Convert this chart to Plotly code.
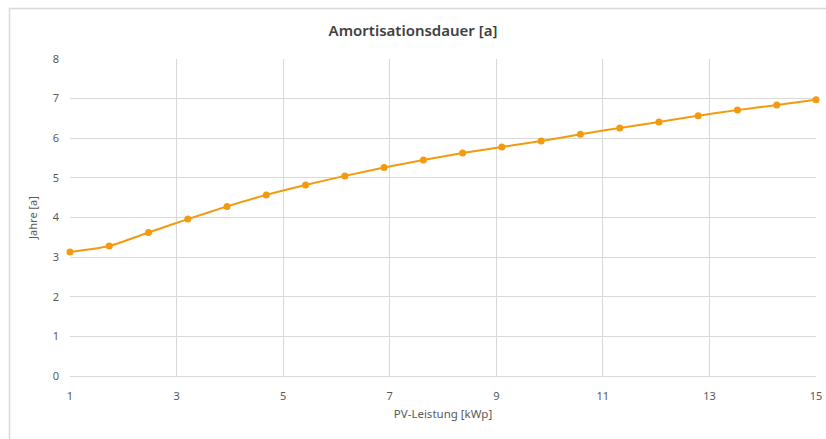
import plotly.graph_objects as go

# PV capacity (kWp) and payback period (years)
pv_kwp = [1.0, 1.737, 2.474, 3.211, 3.947, 4.684, 5.421, 6.158, 6.895, 7.632,
          8.368, 9.105, 9.842, 10.579, 11.316, 12.053, 12.789, 13.526, 14.263, 15.0]
payback_years = [3.13, 3.28, 3.62, 3.96, 4.28, 4.57, 4.82, 5.05, 5.26, 5.45,
                 5.63, 5.78, 5.93, 6.10, 6.26, 6.41, 6.57, 6.71, 6.84, 6.97]

x_ticks = [1, 3, 5, 7, 9, 11, 13, 15]
y_ticks = [0, 1, 2, 3, 4, 5, 6, 7, 8]

FONT = "Noto Sans"
TEXT = "#595959"
GRID = "#D9D9D9"
ORANGE = "#F39A0E"

fig = go.Figure()
fig.add_trace(go.Scatter(
    x=pv_kwp, y=payback_years,
    mode="lines+markers",
    line=dict(color=ORANGE, width=2, shape="spline", smoothing=0.6),
    marker=dict(color=ORANGE, size=7),
    showlegend=False,
    cliponaxis=False,
))

fig.update_layout(
    width=826, height=439,
    margin=dict(l=70, r=10, t=59, b=63, autoexpand=False),
    paper_bgcolor="white", plot_bgcolor="white",
    font=dict(family=FONT, color=TEXT, size=10),
    title=dict(text="Amortisationsdauer [a]", x=0.5, xanchor="center",
               y=1 - 31 / 439, yanchor="middle",
               font=dict(family=FONT, size=15, color="#404040", weight=600)),
    xaxis=dict(range=[1, 15], tickvals=x_ticks, ticktext=[str(v) for v in x_ticks],
               automargin=False,
               showgrid=True, gridcolor=GRID, gridwidth=1,
               zeroline=False, showline=True, linecolor=GRID, linewidth=1,
               mirror=False, ticks="", ticklen=0, ticklabelstandoff=10,
               title=dict(text="PV-Leistung [kWp]", standoff=7,
                          font=dict(family=FONT, size=11.5, color=TEXT)),
               tickfont=dict(family=FONT, size=11, color=TEXT)),
    yaxis=dict(range=[0, 8], tickvals=y_ticks, automargin=False,
               showgrid=True, gridcolor=GRID, gridwidth=1,
               zeroline=False, showline=False, ticks="", ticklabelstandoff=10,
               title=dict(text="Jahre [a]", standoff=12,
                          font=dict(family=FONT, size=11, color=TEXT)),
               tickfont=dict(family=FONT, size=11, color=TEXT)),
)

# light frame around the chart area (left and top edges visible)
fig.add_shape(type="rect", xref="paper", yref="paper",
              x0=(9.5 - 70) / 746, x1=(840 - 70) / 746,
              y0=(376 - 445) / 317, y1=(376 - 8.5) / 317,
              line=dict(color="#D9D9D9", width=1.5), fillcolor="rgba(0,0,0,0)",
              layer="below")

fig.write_html("out.html")
